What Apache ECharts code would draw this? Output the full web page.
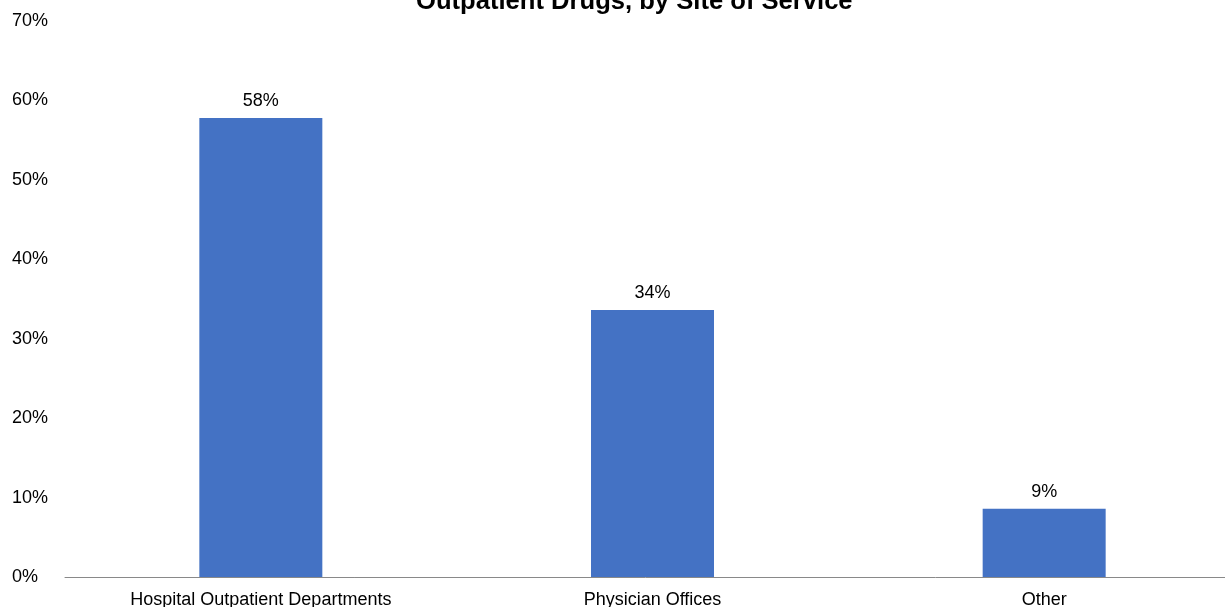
<!DOCTYPE html>
<html>
<head>
<meta charset="utf-8">
<script src="https://cdn.jsdelivr.net/npm/echarts@6/dist/echarts.min.js"></script>
<style>
  html, body { margin: 0; padding: 0; background: #fff; }
  #chart { width: 1225px; height: 607px; }
</style>
</head>
<body>
<div id="chart"></div>
<script>
// Data
const categories = ['Hospital Outpatient Departments', 'Physician Offices', 'Other'];
const shareValues = [57.8, 33.6, 8.6];
const titleText = 'Outpatient Drugs, by Site of Service';

const FONT = "'Liberation Sans', Arial, sans-serif";

const chart = echarts.init(document.getElementById('chart'));

const option = {
    backgroundColor: '#ffffff',
    animation: false,
    // title is cut off by the top edge in the original
    title: {
        text: titleText,
        left: 416,
        top: -11,
        padding: 0,
        textStyle: {
            fontFamily: FONT,
            fontSize: 25.6,
            fontWeight: 'bold',
            color: '#000000'
        }
    },
    grid: {
        left: 65,
        top: 21,
        width: 1175,
        height: 556,
        containLabel: false,
        outerBoundsMode: 'none'
    },
    xAxis: {
        type: 'category',
        data: categories,
        axisLine: { lineStyle: { color: '#898989', width: 1 } },
        axisTick: { show: false },
        axisLabel: {
            margin: 14,
            interval: 0,
            fontFamily: FONT,
            fontSize: 18,
            color: '#000000'
        }
    },
    yAxis: {
        type: 'value',
        min: 0,
        max: 70,
        interval: 10,
        axisLine: { show: false },
        axisTick: { show: false },
        splitLine: { show: false },
        axisLabel: {
            align: 'left',
            margin: 53,
            fontFamily: FONT,
            fontSize: 18,
            color: '#000000',
            formatter: v => v + '%'
        }
    },
    series: [
        {
            type: 'bar',
            data: shareValues,
            barWidth: 123,
            itemStyle: { color: '#4472C4' },
            label: {
                show: true,
                position: 'top',
                distance: 8,
                fontFamily: FONT,
                fontSize: 18,
                color: '#000000',
                formatter: p => Math.round(p.value) + '%'
            }
        }
    ]
};

chart.setOption(option);
</script>
</body>
</html>
